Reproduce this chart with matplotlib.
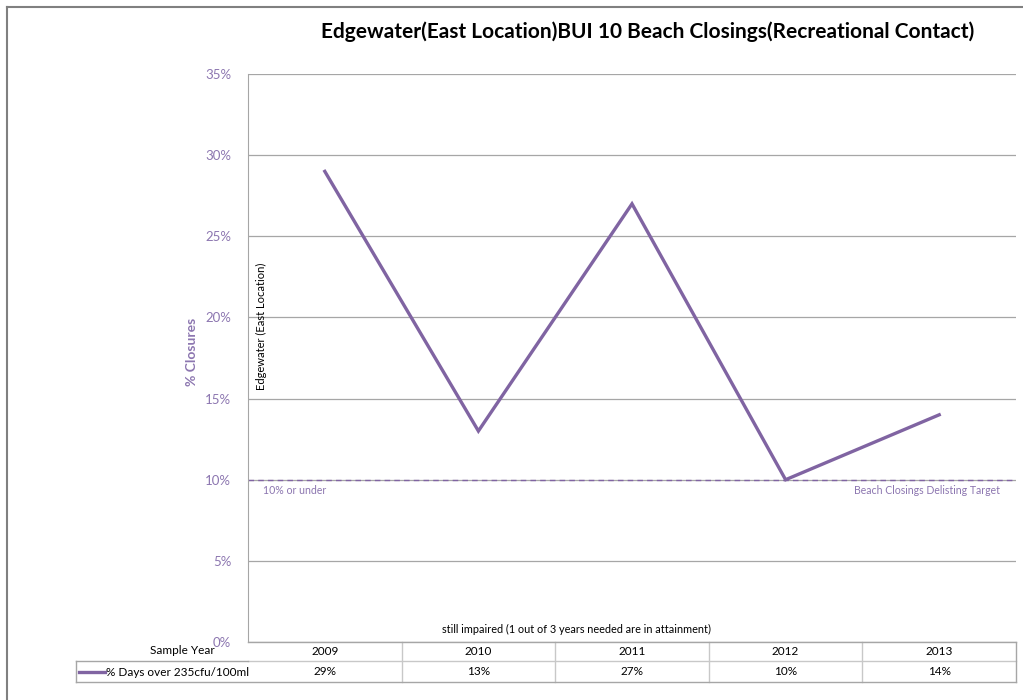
import matplotlib.pyplot as plt
from matplotlib.lines import Line2D

years = ['2009', '2010', '2011', '2012', '2013']
closures = [29, 13, 27, 10, 14]
target = 10
yticks = [0, 5, 10, 15, 20, 25, 30, 35]

purple = '#8064A2'
tick_purple = '#8C76B0'
grid_gray = '#A6A6A6'
cell_gray = '#C8C8C8'

plt.rcParams['font.family'] = ['Lato', 'DejaVu Sans']

W, H = 1023, 700
fig = plt.figure(figsize=(W / 100, H / 100), dpi=100)

def fx(px):
    return px / W

def fy(py):
    return 1 - py / H

# chart border (top and left)
fig.add_artist(Line2D([fx(7), fx(7)], [fy(7), fy(700)], color='#808080', lw=1.5))
fig.add_artist(Line2D([fx(7), fx(1023)], [fy(7), fy(7)], color='#808080', lw=1.5))

left, right, top, bottom = 248, 1016, 74, 642
ax = fig.add_axes([fx(left), fy(bottom), fx(right - left), (bottom - top) / H])

x = list(range(len(years)))
ax.plot(x, closures, color=purple, lw=2.4, solid_joinstyle='miter')
ax.axhline(target, color=purple, lw=1, ls=(0, (4, 3)))

ax.set_xlim(-0.5, len(years) - 0.5)
ax.set_ylim(0, 35)
ax.set_yticks(yticks)
ax.set_yticklabels([f'{v}%' for v in yticks], color=tick_purple, fontsize=9.5)
ax.set_xticks([])
ax.tick_params(axis='y', length=0, pad=12)
ax.yaxis.grid(True, color=grid_gray, lw=0.9)
ax.set_axisbelow(True)
for s in ['top', 'right', 'bottom']:
    ax.spines[s].set_visible(False)
ax.spines['left'].set_color(grid_gray)

ax.set_ylabel('% Closures', color=tick_purple, fontsize=10, fontweight='bold')
ax.yaxis.set_label_coords(-(left - 198) / (right - left), 0.51)

ax.text(0.018, 0.555, 'Edgewater (East Location)', transform=ax.transAxes, rotation=90,
        fontsize=8, va='center', ha='center')
ax.text(0.02, target - 0.3, '10% or under', transform=ax.get_yaxis_transform(),
        color=tick_purple, fontsize=7.6, va='top', ha='left')
ax.text(0.979, target - 0.3, 'Beach Closings Delisting Target', transform=ax.get_yaxis_transform(),
        color=tick_purple, fontsize=7.6, va='top', ha='right')

fig.text(fx(648), fy(32), 'Edgewater(East Location)BUI 10 Beach Closings(Recreational Contact)',
         fontsize=15, fontweight='bold', ha='center', va='center')
fig.text(fx(576), fy(629), 'still impaired (1 out of 3 years needed are in attainment)',
         fontsize=7.8, ha='center', va='center')

# data table below the plot
row1, row2, row3 = 642, 661, 682
colw = (right - left) / len(years)
for i, (yr, v) in enumerate(zip(years, closures)):
    cx = left + colw * (i + 0.5)
    fig.text(fx(cx), fy((row1 + row2) / 2), yr, fontsize=8.5, ha='center', va='center')
    fig.text(fx(cx), fy((row2 + row3) / 2), f'{v}%', fontsize=8.5, ha='center', va='center')
for i in range(1, len(years)):
    bx = left + colw * i
    fig.add_artist(Line2D([fx(bx), fx(bx)], [fy(row1), fy(row3)], color=cell_gray, lw=1))
fig.add_artist(Line2D([fx(left), fx(right)], [fy(row2), fy(row2)], color=cell_gray, lw=1))
fig.add_artist(Line2D([fx(left), fx(right)], [fy(row1), fy(row1)], color=grid_gray, lw=1))
fig.add_artist(Line2D([fx(right), fx(right)], [fy(row1), fy(row3)], color=grid_gray, lw=1))
fig.add_artist(Line2D([fx(76), fx(right)], [fy(row3), fy(row3)], color=grid_gray, lw=1))
fig.add_artist(Line2D([fx(76), fx(left)], [fy(row2), fy(row2)], color=grid_gray, lw=1))
fig.add_artist(Line2D([fx(76), fx(76)], [fy(row2), fy(row3)], color=grid_gray, lw=1))

fig.text(fx(215), fy(651), 'Sample Year', fontsize=8.5, ha='right', va='center')
fig.add_artist(Line2D([fx(79), fx(105)], [fy(672), fy(672)], color=purple, lw=2.4))
fig.text(fx(106), fy(672), '% Days over 235cfu/100ml', fontsize=8.5, ha='left', va='center')

fig.savefig('out.png', dpi=100)
